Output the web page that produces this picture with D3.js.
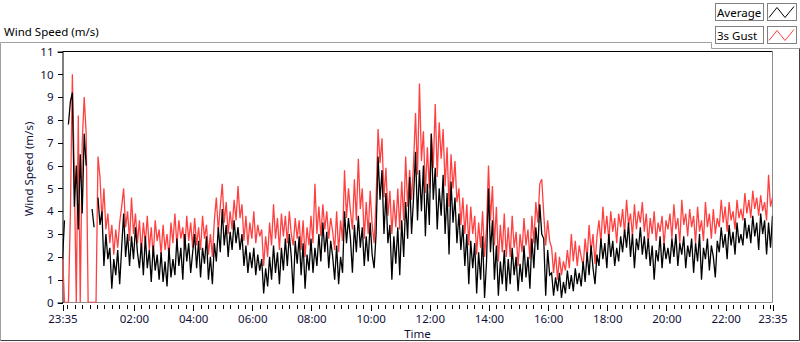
<!DOCTYPE html>
<html>
<head>
<meta charset="utf-8">
<script src="https://cdn.jsdelivr.net/npm/d3@7"></script>
<style>
  html, body { margin: 0; padding: 0; background: #fff; }
  svg { display: block; font-family: "Noto Sans", "DejaVu Sans", sans-serif; }
</style>
</head>
<body>
<div id="chart"></div>
<script>
// one sample every 4 minutes, 23:35 -> 23:35 next day
const startTime = new Date(2000, 0, 1, 23, 35);
const endTime = new Date(2000, 0, 2, 23, 35);
const stepMinutes = 4;

const seriesNames = ['Average', '3s Gust'];

// null = no reading (gap in the trace)
const average = [
  1.9, 3.6, null, 7.8, 8.8, 9.2, 4.2, 6.0, 3.2, 6.5,
  3.9, 7.4, 6.0, null, null, 4.1, 3.3, null, 4.6, 3.4,
  4.0, 1.6, 3.0, 1.9, 2.4, 0.6, 1.9, 1.2, 2.3, 0.8,
  2.4, 3.9, 2.0, 3.0, 1.6, 2.9, 1.9, 3.3, 2.2, 1.5,
  2.6, 1.2, 2.9, 1.5, 2.3, 0.9, 2.5, 1.4, 2.1, 1.0,
  2.2, 0.9, 1.8, 0.7, 2.4, 1.1, 1.9, 1.2, 2.8, 1.6,
  2.4, 1.0, 3.0, 1.8, 2.6, 1.3, 2.2, 3.0, 1.5, 2.7,
  1.1, 2.4, 1.7, 2.9, 1.0, 2.0, 0.8, 2.6, 1.8, 3.3,
  2.2, 4.1, 2.5, 3.4, 2.0, 3.1, 2.3, 3.6, 2.6, 3.3,
  2.3, 3.0, 1.6, 2.5, 1.3, 2.2, 1.5, 2.4, 1.2, 2.1,
  1.4, 1.9, 0.4, 1.5, 0.7, 2.0, 1.0, 2.5, 1.3, 2.2,
  0.8, 2.4, 1.4, 2.8, 1.6, 3.0, 2.0, 0.4, 2.7, 1.7,
  2.9, 1.2, 2.6, 0.6, 2.1, 1.4, 2.8, 1.3, 2.4, 1.6,
  3.0, 1.8, 3.5, 2.2, 3.1, 1.5, 2.7, 2.0, 1.0, 2.5,
  0.8, 2.0, 1.3, 4.0, 2.6, 3.7, 2.8, 1.3, 3.4, 2.2,
  3.8, 2.4, 3.3, 1.6, 2.9, 1.8, 3.5, 2.1, 1.5, 3.0,
  6.4, 4.5, 5.8, 3.0, 4.8, 2.6, 3.4, 1.0, 2.9, 1.7,
  3.3, 1.2, 3.6, 2.0, 4.4, 2.8, 5.5, 3.0, 4.6, 6.6,
  3.6, 5.8, 4.0, 6.0, 2.9, 5.2, 3.4, 7.4, 4.5, 5.9,
  3.2, 5.0, 3.8, 5.6, 3.0, 4.8, 2.1, 5.3, 3.5, 4.6,
  2.6, 3.9, 2.3, 3.4, 1.6, 3.0, 0.8, 2.7, 1.5, 2.6,
  0.4, 2.2, 1.0, 2.9, 0.2, 1.8, 5.0, 2.2, 3.6, 1.0,
  2.5, 0.3, 1.8, 0.8, 2.3, 0.5, 1.9, 0.8, 2.4, 1.2,
  2.0, 0.5, 1.7, 0.9, 2.5, 1.1, 2.0, 0.6, 2.8, 1.5,
  3.3, 2.3, 4.3, 3.0, 2.8, 0.3, 2.3, 1.2, 1.3, 0.3,
  1.1, 0.5, 1.3, 0.2, 0.9, 0.4, 1.4, 0.6, 1.2, 0.5,
  1.5, 0.8, 1.3, 0.7, 1.8, 0.9, 2.2, 1.2, 2.5, 1.5,
  0.8, 2.1, 1.6, 2.8, 1.9, 2.6, 1.5, 3.0, 2.0, 2.7,
  1.6, 2.4, 1.8, 2.9, 2.2, 3.2, 2.4, 3.5, 2.0, 3.0,
  1.5, 2.8, 2.3, 3.3, 2.1, 2.9, 1.9, 2.8, 1.6, 2.5,
  1.0, 2.3, 1.8, 2.9, 1.5, 2.6, 1.9, 2.4, 1.7, 2.8,
  2.0, 3.0, 1.6, 2.6, 2.1, 2.9, 1.5, 2.5, 2.0, 2.8,
  1.3, 2.6, 1.8, 3.0, 1.0, 2.4, 1.9, 2.8, 1.4, 2.5,
  2.0, 1.1, 2.7, 2.2, 3.3, 2.4, 3.0, 1.9, 3.4, 2.5,
  3.1, 2.1, 3.5, 2.6, 3.0, 2.5, 3.7, 2.8, 3.4, 2.6,
  3.8, 2.9, 3.5, 2.3, 3.9, 3.0, 3.6, 2.1, 3.5, 2.4,
  3.8
];

const gust = [
  2.1, 0, 0, 0, 3.9, 10.0, 5.5, 0, 8.2, 0,
  7.0, 9.0, 7.4, 0, 0, 0, 0, 0, 6.4, 5.5,
  3.6, 5.0, 3.2, 3.9, 2.6, 3.4, 2.1, 3.2, 2.4, 3.5,
  4.2, 5.0, 3.3, 4.0, 2.7, 4.6, 3.0, 3.9, 2.6, 3.6,
  2.2, 3.5, 2.6, 3.8, 2.3, 3.3, 2.0, 3.6, 2.7, 3.2,
  2.1, 3.4, 2.3, 3.0, 2.0, 3.5, 2.6, 3.9, 2.5, 3.6,
  2.8, 3.3, 2.3, 3.8, 2.7, 3.5, 2.4, 3.7, 2.5, 3.3,
  2.3, 3.8, 2.8, 3.4, 2.1, 3.0, 2.0, 3.6, 4.6, 3.1,
  4.2, 5.2, 3.5, 4.4, 3.0, 4.0, 3.2, 4.5, 3.6, 5.1,
  3.7, 4.3, 2.7, 3.8, 2.5, 3.5, 2.8, 4.0, 2.6, 3.4,
  2.9, 3.2, 1.6, 2.9, 2.0, 3.5, 2.5, 4.3, 2.8, 3.7,
  2.3, 3.9, 2.9, 3.8, 2.6, 4.0, 3.0, 2.5, 3.7, 2.8,
  3.6, 2.3, 3.6, 2.0, 3.3, 2.5, 3.8, 2.6, 5.2, 3.0,
  4.2, 2.9, 4.3, 3.2, 4.0, 2.8, 3.7, 3.1, 2.3, 4.0,
  2.2, 3.6, 2.7, 5.8, 3.7, 5.0, 4.0, 3.2, 5.4, 3.6,
  6.3, 4.1, 5.0, 2.8, 4.4, 3.0, 4.9, 3.4, 2.6, 4.5,
  7.6, 6.1, 7.2, 4.6, 5.9, 3.8, 4.9, 3.0, 4.5, 3.3,
  5.0, 3.2, 5.3, 3.6, 6.4, 4.2, 5.8, 4.5, 6.1, 8.3,
  5.6, 9.6, 6.2, 7.5, 4.8, 6.8, 5.0, 7.4, 5.9, 8.7,
  5.5, 7.9, 6.3, 7.6, 5.1, 6.8, 4.2, 6.5, 5.0, 6.2,
  4.4, 5.0, 3.4, 4.6, 3.0, 4.3, 2.5, 4.2, 3.0, 3.8,
  2.1, 3.5, 2.4, 4.0, 2.0, 3.3, 6.0, 3.6, 5.1, 2.5,
  4.2, 1.8, 3.4, 2.2, 3.9, 2.0, 3.3, 2.0, 3.8, 2.4,
  3.1, 1.6, 3.0, 2.2, 3.7, 2.5, 3.2, 1.9, 3.8, 2.6,
  4.4, 3.5, 5.2, 5.4, 3.9, 2.5, 3.6, 2.7, 2.4, 1.3,
  2.2, 1.0, 2.0, 1.2, 1.8, 1.4, 2.3, 1.5, 3.0, 1.8,
  2.7, 1.6, 2.5, 2.0, 1.6, 2.8, 1.9, 3.4, 2.2, 3.0,
  1.7, 2.9, 3.6, 2.6, 4.2, 3.0, 3.8, 2.7, 4.0, 3.1,
  3.7, 2.6, 3.9, 3.3, 4.1, 3.0, 4.5, 3.4, 3.9, 2.9,
  4.3, 3.2, 4.0, 3.5, 4.4, 3.1, 3.9, 2.6, 3.7, 3.0,
  4.0, 2.7, 3.5, 3.1, 3.8, 2.5, 3.6, 3.2, 3.9, 2.8,
  4.3, 3.2, 3.7, 2.6, 4.5, 3.4, 3.9, 2.9, 4.1, 3.3,
  3.8, 2.6, 4.2, 3.1, 3.6, 2.7, 4.4, 3.3, 3.9, 2.8,
  4.1, 3.0, 3.7, 3.3, 4.5, 3.5, 4.2, 3.1, 4.4, 3.6,
  4.0, 3.2, 4.5, 3.7, 4.1, 3.6, 4.8, 3.9, 4.5, 3.7,
  4.9, 4.1, 4.6, 3.8, 4.7, 4.0, 4.4, 3.6, 5.6, 4.2,
  4.6
];

const yTicks = [0, 1, 2, 3, 4, 5, 6, 7, 8, 9, 10, 11];
const xTickHours = [2, 4, 6, 8, 10, 12, 14, 16, 18, 20, 22];

const width = 800, height = 342;
const plot = { left: 62.5, top: 51.5, right: 772.5, bottom: 302.5 };
const fontSize = 11.5;
const labelColor = '#10103a';

const svg = d3.select('#chart').append('svg')
  .attr('width', width)
  .attr('height', height);

const x = d3.scaleTime().domain([startTime, endTime]).range([plot.left, plot.right]);
const y = d3.scaleLinear().domain([0, 11]).range([plot.bottom, plot.top]);

const timeAt = i => d3.timeMinute.offset(startTime, i * stepMinutes);
const fmt = d3.timeFormat('%H:%M');

// outer frame (raised look)
svg.append('path')
  .attr('d', 'M0.5,340.5 V42.5 H711.5 V48.5 H799.5')
  .attr('fill', 'none').attr('stroke', '#a0a0a0');
svg.append('path')
  .attr('d', 'M799.5,48.5 V340.5 H0.5')
  .attr('fill', 'none').attr('stroke', '#404040');

svg.append('text')
  .attr('x', 4).attr('y', 36)
  .attr('font-size', fontSize).attr('fill', '#000')
  .text('Wind Speed (m/s)');

// plot border: top black, right/bottom grey
svg.append('line')
  .attr('x1', plot.left).attr('x2', plot.right)
  .attr('y1', plot.top).attr('y2', plot.top)
  .attr('stroke', '#000');
svg.append('path')
  .attr('d', `M${plot.right},${plot.top} V${plot.bottom} H${plot.left}`)
  .attr('fill', 'none').attr('stroke', '#8c8c8c');

// y axis
const yAxis = svg.append('g')
  .attr('transform', `translate(${plot.left},0)`)
  .call(d3.axisLeft(y).tickValues(yTicks).tickSize(5).tickPadding(4).tickFormat(d3.format('d')));
yAxis.select('.domain').attr('stroke', '#000');
yAxis.selectAll('text').attr('font-size', fontSize).attr('font-family', '"Noto Sans", sans-serif').attr('fill', labelColor);

// x axis: minor ticks every 15 min, major at labels
const minorTicks = d3.timeMinute.every(15).range(startTime, endTime);
const majorTicks = [startTime].concat(xTickHours.map(h => new Date(2000, 0, 2, h, 0)), [endTime]);

const xAxisMinor = svg.append('g')
  .attr('transform', `translate(0,${plot.bottom + 2})`)
  .call(d3.axisBottom(x).tickValues(minorTicks).tickSize(4).tickFormat(''));
xAxisMinor.select('.domain').remove();

const xAxis = svg.append('g')
  .attr('transform', `translate(0,${plot.bottom + 2})`)
  .call(d3.axisBottom(x).tickValues(majorTicks).tickSize(6).tickPadding(4).tickFormat(fmt));
xAxis.select('.domain').remove();
xAxis.selectAll('text').attr('font-size', fontSize).attr('font-family', '"Noto Sans", sans-serif').attr('fill', labelColor);

svg.selectAll('.tick line').attr('shape-rendering', 'crispEdges');

// axis titles
svg.append('text')
  .attr('x', (plot.left + plot.right) / 2).attr('y', 338)
  .attr('text-anchor', 'middle').attr('font-size', fontSize).attr('fill', labelColor)
  .text('Time');
svg.append('text')
  .attr('transform', 'translate(33,169) rotate(-90)')
  .attr('text-anchor', 'middle').attr('font-size', fontSize).attr('fill', labelColor)
  .text('Wind Speed (m/s)');

// traces
const line = d3.line()
  .defined(d => d.v != null)
  .x(d => x(d.t))
  .y(d => y(d.v));

const toPoints = arr => arr.map((v, i) => ({ t: timeAt(i), v: v }));

svg.append('clipPath').attr('id', 'clip')
  .append('rect').attr('x', plot.left).attr('y', plot.top - 1)
  .attr('width', plot.right - plot.left).attr('height', plot.bottom - plot.top + 1);

const traces = svg.append('g').attr('clip-path', 'url(#clip)');
traces.append('path')
  .datum(toPoints(gust))
  .attr('d', line)
  .attr('fill', 'none').attr('stroke', '#ff4040').attr('stroke-width', 1.3);
traces.append('path')
  .datum(toPoints(average))
  .attr('d', line)
  .attr('fill', 'none').attr('stroke', '#000').attr('stroke-width', 1.3);

// legend
const legendColors = ['#000', '#ff4040'];
const legendRows = [3.5, 26.5];
seriesNames.forEach((name, k) => {
  const ly = legendRows[k];
  const g = svg.append('g');
  g.append('rect').attr('x', 715.5).attr('y', ly).attr('width', 48).attr('height', 17)
    .attr('fill', '#fff').attr('stroke', '#808080');
  g.append('text').attr('x', 717).attr('y', ly + 13)
    .attr('font-size', fontSize).attr('fill', '#000').text(name);
  g.append('rect').attr('x', 767.5).attr('y', ly).attr('width', 29).attr('height', 17)
    .attr('fill', '#fff').attr('stroke', '#808080');
  g.append('path')
    .attr('d', `M769,${ly + 14} L777,${ly + 4} L785,${ly + 14} L794,${ly + 3}`)
    .attr('fill', 'none').attr('stroke', legendColors[k]);
});
</script>
</body>
</html>
